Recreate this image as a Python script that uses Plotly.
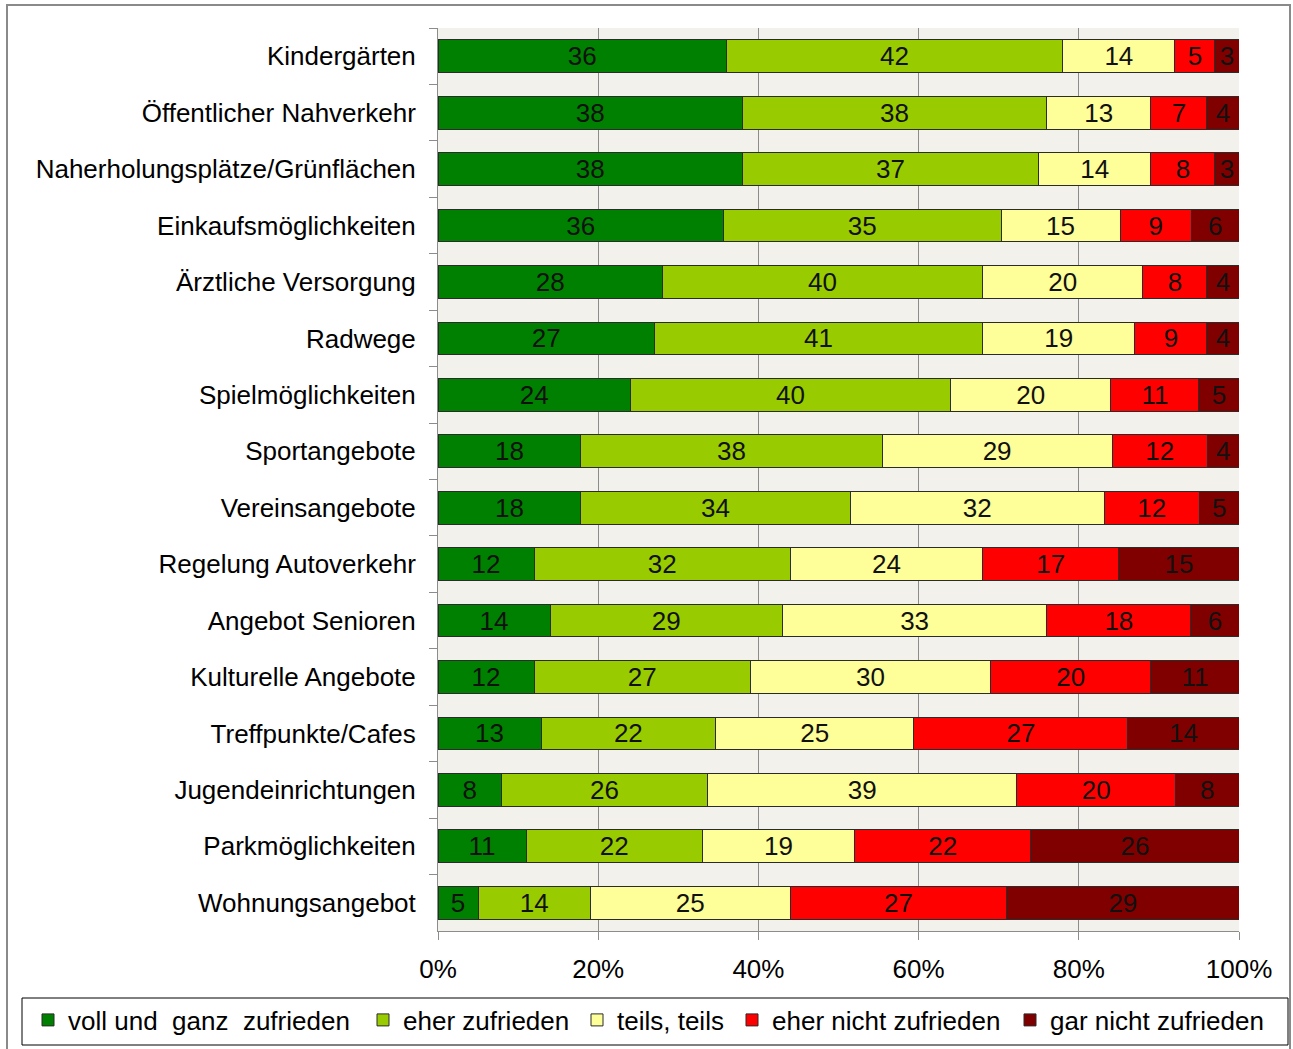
import plotly.graph_objects as go

categories = [
    "Kindergärten", "Öffentlicher Nahverkehr", "Naherholungsplätze/Grünflächen",
    "Einkaufsmöglichkeiten", "Ärztliche Versorgung", "Radwege", "Spielmöglichkeiten",
    "Sportangebote", "Vereinsangebote", "Regelung Autoverkehr", "Angebot Senioren",
    "Kulturelle Angebote", "Treffpunkte/Cafes", "Jugendeinrichtungen",
    "Parkmöglichkeiten", "Wohnungsangebot",
]

voll_zufrieden = [36, 38, 38, 36, 28, 27, 24, 18, 18, 12, 14, 12, 13, 8, 11, 5]
eher_zufrieden = [42, 38, 37, 35, 40, 41, 40, 38, 34, 32, 29, 27, 22, 26, 22, 14]
teils_teils = [14, 13, 14, 15, 20, 19, 20, 29, 32, 24, 33, 30, 25, 39, 19, 25]
eher_nicht = [5, 7, 8, 9, 8, 9, 11, 12, 12, 17, 18, 20, 27, 20, 22, 27]
gar_nicht = [3, 4, 3, 6, 4, 4, 5, 4, 5, 15, 6, 11, 14, 8, 26, 29]

series_names = [
    "voll und\u00a0 ganz\u00a0 zufrieden", "eher zufrieden", "teils, teils",
    "eher nicht zufrieden", "gar nicht zufrieden",
]
series_values = [voll_zufrieden, eher_zufrieden, teils_teils, eher_nicht, gar_nicht]
series_colors = ["#008000", "#99CC00", "#FFFF99", "#FF0000", "#800000"]

x_ticks = [0, 20, 40, 60, 80, 100]
x_tick_labels = ["0%", "20%", "40%", "60%", "80%", "100%"]

FONT = "Liberation Sans, Arial, sans-serif"
FS = 26

# plot-area geometry in pixels, used to place the frame and legend entries
L, R, T, B = 438, 1239, 28, 931
W, H = 1293, 1049
px = lambda x: (x - L) / (R - L)
py = lambda y: (B - y) / (B - T)

# left edge of each legend entry (one legend per series, laid out in a row)
legend_left = [28, 363, 577, 732, 1010]
legend_ids = ["legend", "legend2", "legend3", "legend4", "legend5"]

fig = go.Figure()
for name, vals, col, lid in zip(series_names, series_values, series_colors, legend_ids):
    fig.add_trace(go.Bar(
        y=categories, x=vals, name=name, orientation="h", legend=lid,
        marker=dict(color=col, line=dict(color="#2b2b2b", width=1)),
        text=[str(v) for v in vals], textposition="inside",
        insidetextanchor="middle", textangle=0,
        textfont=dict(family=FONT, size=FS, color="#111111"),
        hoverinfo="skip",
    ))

legend_layout = {}
for lid, lx in zip(legend_ids, legend_left):
    legend_layout[lid] = dict(
        orientation="h", x=px(lx), xanchor="left", y=py(1020), yanchor="middle",
        font=dict(family=FONT, size=FS, color="#000000"),
        bgcolor="rgba(0,0,0,0)",
    )

fig.update_layout(
    barmode="stack", barnorm="percent", bargap=0.42,
    width=W, height=H,
    margin=dict(l=L, r=W - R, t=T, b=H - B, autoexpand=False),
    paper_bgcolor="white", plot_bgcolor="#F2F1EC",
    font=dict(family=FONT, size=FS, color="#000000"),
    uniformtext=dict(minsize=FS, mode="show"),
    showlegend=True,
    xaxis=dict(
        range=[0, 100], tickvals=x_ticks, ticktext=x_tick_labels,
        showgrid=True, gridcolor="#8c8c8c", gridwidth=1,
        showline=True, linecolor="#8c8c8c", linewidth=1,
        ticks="outside", ticklen=8, tickcolor="#8c8c8c",
        ticklabelstandoff=7, zeroline=False, fixedrange=True, automargin=False,
    ),
    yaxis=dict(
        autorange="reversed", type="category",
        showline=True, linecolor="#8c8c8c", linewidth=1,
        ticks="outside", ticklen=8, tickcolor="#8c8c8c",
        tickson="boundaries", showgrid=False, ticklabelstandoff=16,
        fixedrange=True, automargin=False,
    ),
    shapes=[
        # outer chart frame
        dict(type="rect", xref="paper", yref="paper",
             x0=px(7), x1=px(1290), y0=py(1052), y1=py(5),
             line=dict(color="#8a8a8a", width=2), layer="below"),
        # legend box
        dict(type="rect", xref="paper", yref="paper",
             x0=px(22), x1=px(1288), y0=py(1045), y1=py(998),
             line=dict(color="#000000", width=1), layer="above"),
    ],
    **legend_layout,
)

fig.write_html("out.html")
